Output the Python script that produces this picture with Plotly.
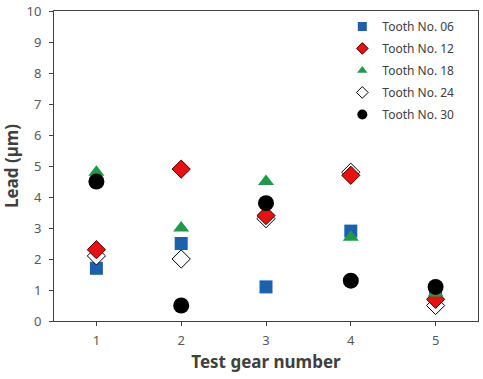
import plotly.graph_objects as go

gears = [1, 2, 3, 4, 5]
tooth06 = [1.7, 2.5, 1.1, 2.9, 0.9]
tooth12 = [2.3, 4.9, 3.4, 4.7, 0.7]
tooth18 = [4.8, 3.0, 4.5, 2.7, 0.9]
tooth24 = [2.1, 2.0, 3.3, 4.8, 0.5]
tooth30 = [4.5, 0.5, 3.8, 1.3, 1.1]
series_names = ["Tooth No. 06", "Tooth No. 12", "Tooth No. 18", "Tooth No. 24", "Tooth No. 30"]
series_vals = [tooth06, tooth12, tooth18, tooth24, tooth30]

styles = [
    dict(symbol="square", color="#1a62ad", line=dict(color="#1a62ad", width=0), size=13),
    dict(symbol="diamond", color="#e81010", line=dict(color="#400000", width=1), size=14),
    dict(symbol="triangle-up", color="#1f9a48", line=dict(color="#1f9a48", width=0), size=14),
    dict(symbol="diamond", color="white", line=dict(color="black", width=1), size=14),
    dict(symbol="circle", color="black", line=dict(color="black", width=0), size=16),
]
legend_sizes = [9, 9, 9, 9, 10]
draw_order = [0, 3, 1, 2, 4]

fig = go.Figure()
for i in draw_order:
    fig.add_trace(go.Scatter(x=gears, y=series_vals[i], mode="markers", name=series_names[i],
                             marker=styles[i], showlegend=False))
for k, (name, st, ls) in enumerate(zip(series_names, styles, legend_sizes)):
    m = dict(st)
    m["size"] = ls
    fig.add_trace(go.Scatter(x=[None], y=[None], mode="markers", name=name,
                             legendgroup="g%d" % k, marker=m, showlegend=True))

font_fam = "Noto Sans, Liberation Sans, sans-serif"
axis_common = dict(showline=True, linecolor="#404040", linewidth=1, mirror=True,
                   ticks="outside", ticklen=4, tickcolor="#404040",
                   showgrid=False, zeroline=False,
                   tickfont=dict(family=font_fam, size=13, color="#595959"))

fig.update_layout(
    width=483, height=379,
    margin=dict(l=54, r=5, t=11, b=58, autoexpand=False),
    paper_bgcolor="white", plot_bgcolor="white",
    xaxis=dict(range=[0.5, 5.5], tickvals=gears, ticktext=[str(g) for g in gears],
               ticklabelstandoff=3,
               title=dict(text="Test gear number", standoff=8,
                          font=dict(family=font_fam, size=17, color="#404040", weight="bold")),
               **axis_common),
    yaxis=dict(range=[0, 10], dtick=1, ticklabelstandoff=5,
               title=dict(text="Lead (µm)", standoff=6,
                          font=dict(family=font_fam, size=17, color="#404040", weight="bold")),
               **axis_common),
    legend=dict(x=0.68, y=0.997, xanchor="left", yanchor="top",
                bgcolor="rgba(0,0,0,0)", tracegroupgap=3, itemwidth=30,
                traceorder="grouped",
                font=dict(family=font_fam, size=12, color="#404040")),
    showlegend=True,
)

fig.write_html("out.html", config={"displayModeBar": False},
               post_script="document.body.style.margin='0px';document.body.style.overflow='hidden';")
